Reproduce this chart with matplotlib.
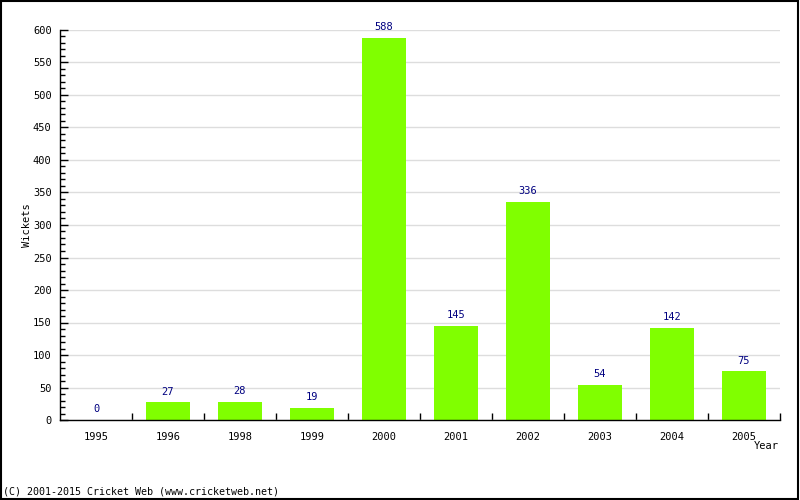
import matplotlib.pyplot as plt
import numpy as np
from matplotlib.patches import Rectangle

years = ['1995', '1996', '1998', '1999', '2000', '2001', '2002', '2003', '2004', '2005']
wickets = [0, 27, 28, 19, 588, 145, 336, 54, 142, 75]

plt.rcParams['font.family'] = 'DejaVu Sans Mono'

fig = plt.figure(figsize=(8, 5), dpi=100)
ax = fig.add_axes([0.075, 0.16, 0.9, 0.78])

x = np.arange(len(years))
ax.bar(x, wickets, width=0.61, color='#80ff00', zorder=2)
for xi, v in zip(x, wickets):
    ax.annotate(str(v), (xi, v), xytext=(0, 4), textcoords='offset points',
                ha='center', va='bottom', color='#000080', fontsize=7.5)

ax.set_xlim(-0.5, len(years) - 0.5)
ax.set_ylim(0, 600)
ax.set_yticks(np.arange(0, 601, 50))
ax.set_yticks(np.arange(0, 601, 10), minor=True)
ax.yaxis.grid(True, color='#dddddd', lw=1, zorder=0)
ax.tick_params(axis='y', which='major', direction='in', length=6, width=1,
               labelsize=7.5, pad=6)
ax.tick_params(axis='y', which='minor', direction='in', length=3.5, width=1)

ax.set_xticks(x, years)
ax.set_xticks(np.arange(0.5, len(years), 1), minor=True)
ax.tick_params(axis='x', which='major', length=0, labelsize=7.5, pad=9)
ax.tick_params(axis='x', which='minor', direction='in', length=5, width=1)

for s in ['top', 'right']:
    ax.spines[s].set_visible(False)
for s in ['left', 'bottom']:
    ax.spines[s].set_linewidth(1)

fig.text(0.034, 0.55, 'Wickets', rotation=90, ha='center', va='center', fontsize=7.5)
fig.text(0.958, 0.108, 'Year', ha='center', va='center', fontsize=7.5)
fig.text(0.004, 0.016, '(C) 2001-2015 Cricket Web (www.cricketweb.net)',
         ha='left', va='center', fontsize=7.2)

fig.patches.append(Rectangle((0.001, 0.002), 0.997, 0.996, transform=fig.transFigure,
                             fill=False, edgecolor='black', lw=1.5))

fig.savefig('out.png', dpi=100)
